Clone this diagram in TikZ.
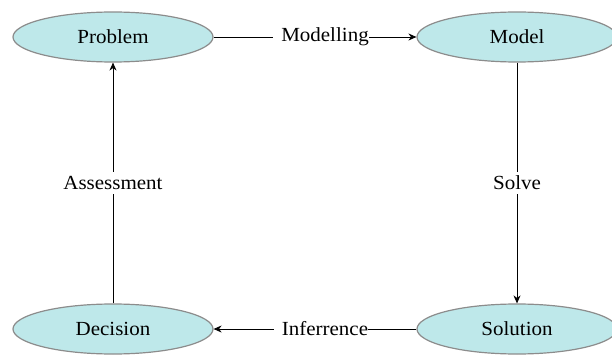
\documentclass[tikz,border=0pt]{standalone}
\usepackage{fontspec}
\setmainfont{Liberation Serif}[FakeStretch=1.05]
\usetikzlibrary{shapes.geometric,arrows.meta}
\definecolor{nodefill}{HTML}{BEE8EA}
\definecolor{nodeline}{HTML}{8C8C8C}
\tikzset{
  stage/.style={ellipse, draw=nodeline, line width=1.2pt, fill=nodefill, minimum width=200pt, minimum height=50pt, inner sep=0pt, font=\rmfamily\fontsize{20}{23}\selectfont},
  conn/.style={draw=black, line width=0.8pt, -{Stealth[length=8pt,width=7pt]}},
  lbl/.style={fill=white, inner sep=4pt, font=\rmfamily\fontsize{20}{23}\selectfont},
  hlbl/.style={fill=white, inner xsep=0pt, inner ysep=3pt, xshift=6pt, font=\rmfamily\fontsize{20}{23}\selectfont}
}
\begin{document}
\begin{tikzpicture}[x=1pt,y=-1pt]
\useasboundingbox (0,0) rectangle (612,358);
\node[stage] (problem) at (113,37) {Problem};
\node[stage] (model) at (517,37) {Model};
\node[stage] (decision) at (113,329) {Decision};
\node[stage] (solution) at (517,329) {Solution};
\draw[conn] (problem.east) -- node[hlbl] {\hspace{8pt}Modelling} (model.west);
\draw[conn] (model.south) -- node[lbl] {Solve} (solution.north);
\draw[conn] (solution.west) -- node[hlbl] {\hspace{8pt}Inferrence} (decision.east);
\draw[conn] (decision.north) -- node[lbl] {Assessment} (problem.south);
\end{tikzpicture}
\end{document}
